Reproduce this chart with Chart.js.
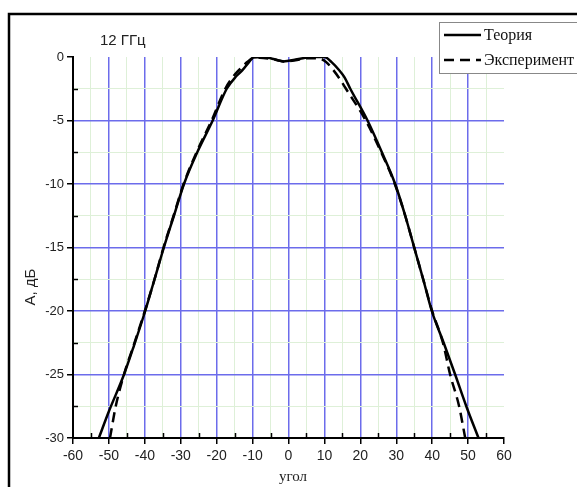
<!DOCTYPE html>
<html>
<head>
<meta charset="utf-8">
<script src="https://cdn.jsdelivr.net/npm/chart.js@4"></script>
<style>
  body { margin: 0; background: #fff; }
  canvas { display: block; }
</style>
</head>
<body>
<canvas id="myChart" width="577" height="487"></canvas>
<script>
// theory curve (angle, dB)
const theoryAngle = [-52.8, -50, -45.8, -43, -39.9, -37.3, -34.7, -31.9, -29.1, -25.4, -21.1, -17.2, -14.5, -12.7, -11, -9.8, -7, -5, -3, -1.4, 0, 2, 4, 6, 8, 10, 12, 14, 15.6, 17.2, 22, 26, 29.7, 32.5, 35, 37.5, 39.9, 43.2, 46.4, 49.5, 52.9]
const theoryDb = [-30, -27.9, -25, -22.7, -20, -17.5, -15, -12.5, -10, -7.5, -5, -2.5, -1.5, -1, -0.4, -0.05, 0, -0.1, -0.25, -0.35, -0.3, -0.2, -0.1, 0, 0, 0, -0.4, -1, -1.6, -2.5, -5, -7.5, -10, -12.5, -15, -17.5, -20, -22.5, -25, -27.5, -30]

// measured curve
const expAngle = [-49.7, -48.1, -45.8, -43, -40, -37.3, -34.8, -32, -29.2, -25.6, -21.4, -17.6, -15, -13, -11.5, -10, -8, -5, -3, -1, 1, 3, 5, 7, 9, 10.5, 12.4, 14.2, 16, 21.5, 25.8, 29.6, 32.5, 35, 37.5, 40, 43, 45, 47.5, 49.2]
const expDb = [-30, -27.5, -25, -22.6, -20, -17.5, -15, -12.5, -10, -7.5, -5, -2.5, -1.4, -0.8, -0.4, -0.1, -0.05, -0.15, -0.25, -0.35, -0.3, -0.2, -0.1, -0.1, -0.15, -0.4, -1, -1.7, -2.5, -5, -7.5, -10, -12.5, -15, -17.5, -20, -22.5, -25, -27.5, -30]

const seriesNames = ['Теория', 'Эксперимент']
const xTicks = [-60, -50, -40, -30, -20, -10, 0, 10, 20, 30, 40, 50, 60]
const yTicks = [0, -5, -10, -15, -20, -25, -30]

const toPoints = (xs, ys) => xs.map((x, i) => ({ x: x, y: ys[i] }))

const blue = 'rgb(108,108,235)'
const green = 'rgb(222,240,216)'
const none = 'rgba(0,0,0,0)'

// all tick positions (major + minor), in scale order
const xAll = []
for (let v = -60; v <= 60; v += 5) xAll.push(v)
const yAll = []
for (let v = -30; v <= 0; v += 2.5) yAll.push(v)

const xGridColors = xAll.map((v) => (v === -60 || v === 60) ? none : (xTicks.includes(v) ? blue : green))
const xGridWidths = xAll.map((v) => xTicks.includes(v) ? 1.5 : 1)
const xTickColors = xAll.map((v) => xTicks.includes(v) ? '#000' : none)
const yGridColors = yAll.map((v) => (v === 0 || v === -30) ? none : (yTicks.includes(v) ? blue : green))
const yGridWidths = yAll.map((v) => yTicks.includes(v) ? 1.5 : 1)
const yTickColors = yAll.map((v) => yTicks.includes(v) ? '#000' : none)

// frame, caption, legend, axis titles, minor inner ticks
const decor = {
    id: 'decor',
    afterDraw(chart) {
        const c = chart.ctx
        const a = chart.chartArea
        const xs = chart.scales.x
        const ys = chart.scales.y
        c.save()

        // minor ticks pointing inward
        c.strokeStyle = '#000'
        c.lineWidth = 1.5
        for (let v = -27.5; v < 0; v += 5) {
            const py = Math.round(ys.getPixelForValue(v)) + 0.5
            c.beginPath(); c.moveTo(a.left, py); c.lineTo(a.left + 5, py); c.stroke()
        }
        for (let v = -55; v < 60; v += 10) {
            const px = Math.round(xs.getPixelForValue(v)) + 0.5
            c.beginPath(); c.moveTo(px, a.bottom); c.lineTo(px, a.bottom - 5); c.stroke()
        }

        // outer frame
        c.strokeStyle = '#000'
        c.lineWidth = 2.5
        c.strokeRect(9, 14, 600, 520)

        // caption
        c.fillStyle = '#222'
        c.font = '15px "Liberation Sans", Arial, sans-serif'
        c.textBaseline = 'middle'
        c.textAlign = 'left'
        c.fillText('12 ГГц', 100, 41)

        // axis titles
        c.font = '15px "Liberation Serif", "Times New Roman", serif'
        c.textAlign = 'center'
        c.fillStyle = '#222'
        c.fillText('угол', 293, 477)
        c.save()
        c.translate(31, 287)
        c.rotate(-Math.PI / 2)
        c.font = '15px "Liberation Sans", Arial, sans-serif'
        c.fillText('А, дБ', 0, 0)
        c.restore()

        // legend box
        c.fillStyle = '#fff'
        c.fillRect(439, 22, 140, 51)
        c.strokeStyle = '#888'
        c.lineWidth = 1
        c.strokeRect(439.5, 22.5, 140, 51)
        const rows = [35, 60]
        chart.data.datasets.forEach((ds, i) => {
            c.strokeStyle = ds.borderColor
            c.lineWidth = ds.borderWidth
            c.setLineDash(ds.borderDash || [])
            c.beginPath(); c.moveTo(444, rows[i]); c.lineTo(481, rows[i]); c.stroke()
            c.setLineDash([])
            c.fillStyle = '#111'
            c.textAlign = 'left'
            c.font = '16px "Liberation Serif", "Times New Roman", serif'
            c.fillText(ds.label, 484, rows[i] + 1)
        })
        c.restore()
    }
}

const config = {
    type: 'line',
    data: {
        datasets: [
            {
                label: seriesNames[0],
                data: toPoints(theoryAngle, theoryDb),
                borderColor: '#000',
                borderWidth: 2.5,
                pointRadius: 0,
                cubicInterpolationMode: 'monotone'
            },
            {
                label: seriesNames[1],
                data: toPoints(expAngle, expDb),
                borderColor: '#000',
                borderWidth: 2.5,
                borderDash: [10, 6],
                pointRadius: 0,
                cubicInterpolationMode: 'monotone'
            }
        ]
    },
    options: {
        responsive: false,
        animation: false,
        layout: { padding: { top: 57, right: 73, left: 0, bottom: 0 } },
        plugins: { legend: { display: false }, tooltip: { enabled: false } },
        scales: {
            x: {
                type: 'linear',
                min: -60,
                max: 60,
                afterFit(s) { s.height = 49 },
                afterBuildTicks(s) { s.ticks = xAll.map((v) => ({ value: v })) },
                ticks: {
                    autoSkip: false,
                    maxRotation: 0,
                    padding: 4,
                    color: '#222',
                    font: { family: '"Liberation Sans", Arial, sans-serif', size: 14 },
                    callback: (v) => xTicks.includes(v) ? String(v) : ''
                },
                grid: {
                    color: xGridColors,
                    lineWidth: xGridWidths,
                    tickColor: xTickColors,
                    tickWidth: 1.5,
                    tickLength: 6
                },
                border: { color: '#000', width: 2 }
            },
            y: {
                type: 'linear',
                min: -30,
                max: 0,
                afterFit(s) { s.width = 73 },
                afterBuildTicks(s) { s.ticks = yAll.map((v) => ({ value: v })) },
                ticks: {
                    autoSkip: false,
                    padding: 3,
                    color: '#222',
                    font: { family: '"Liberation Sans", Arial, sans-serif', size: 13 },
                    callback: (v) => yTicks.includes(v) ? String(v) : ''
                },
                grid: {
                    color: yGridColors,
                    lineWidth: yGridWidths,
                    tickColor: yTickColors,
                    tickWidth: 1.5,
                    tickLength: 6
                },
                border: { color: '#000', width: 2 }
            }
        }
    },
    plugins: [decor]
}

const chart = new Chart(document.querySelector('#myChart'), config)
</script>
</body>
</html>
